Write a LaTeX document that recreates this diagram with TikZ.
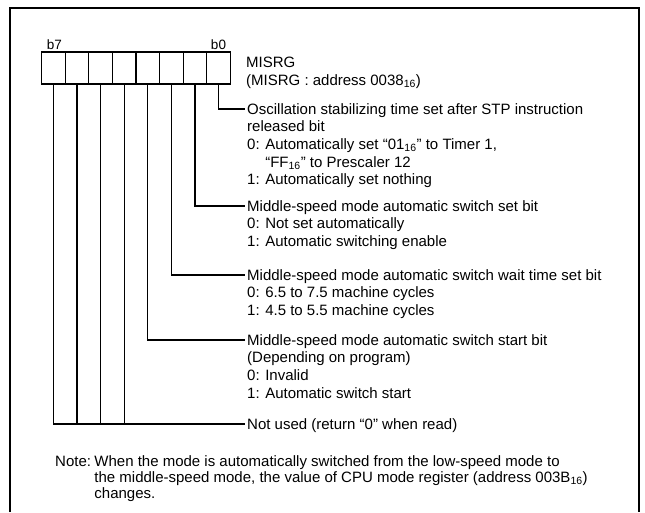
\documentclass[tikz,border=0pt]{standalone}
\usepackage{fontspec}
\setmainfont{Liberation Sans}
\usepackage{tikz}
\usetikzlibrary{positioning,calc}

\tikzset{
  cell/.style={draw, rectangle, line width=1.2pt, minimum width=23.6pt, minimum height=32pt, inner sep=0pt},
  wire/.style={line width=1.2pt},
  desc/.style={anchor=north west, inner sep=0pt, align=left, font=\fontsize{15}{17.6}\selectfont},
  notetext/.style={anchor=north west, inner sep=0pt, align=left, font=\fontsize{15}{16}\selectfont},
  bitlabel/.style={anchor=south, inner sep=1.5pt, font=\fontsize{13.5}{13.5}\selectfont}
}
\newcommand{\hexsub}{\textsubscript{16}}

\begin{document}
\begin{tikzpicture}[x=1pt, y=-1pt]
    \useasboundingbox (0,0) rectangle (645,512);
    \draw [line width=2pt] (10,512) -- (10,7.5) -- (639,7.5) -- (639,512);
    \foreach \b in {0,...,7}
        \node [cell] (c\b) at ({218.5-23.6*\b},68) {};
    \node [bitlabel] (lb7) at ([xshift=1pt]c7.north) {b7};
    \node [bitlabel] (lb0) at (c0.north) {b0};
    \node [desc] (reg) at (246,55) {\strut MISRG\\(MISRG : address 0038\hexsub)};
    \coordinate (e0) at (245,109);
    \coordinate (e1) at (245,206);
    \coordinate (e2) at (245,275);
    \coordinate (e3) at (245,340);
    \coordinate (e4) at (245,424);
    \node [desc] (d0) at ([shift={(2,-7.2)}]e0) {\strut Oscillation stabilizing time set after STP instruction\\released bit\\0: Automatically set “01\hexsub” to Timer 1,\\\phantom{0: }“FF\hexsub” to Prescaler 12\\1: Automatically set nothing};
    \node [desc] (d1) at ([shift={(2,-7.2)}]e1) {\strut Middle-speed mode automatic switch set bit\\0: Not set automatically\\1: Automatic switching enable};
    \node [desc] (d2) at ([shift={(2,-7.2)}]e2) {\strut Middle-speed mode automatic switch wait time set bit\\0: 6.5 to 7.5 machine cycles\\1: 4.5 to 5.5 machine cycles};
    \node [desc] (d3) at ([shift={(2,-7.2)}]e3) {\strut Middle-speed mode automatic switch start bit\\(Depending on program)\\0: Invalid\\1: Automatic switch start};
    \node [desc] (d4) at ([shift={(2,-7.2)}]e4) {\strut Not used (return “0” when read)};
    \draw [wire] (c0.south) |- (e0);
    \draw [wire] (c1.south) |- (e1);
    \draw [wire] (c2.south) |- (e2);
    \draw [wire] (c3.south) |- (e3);
    \draw [wire] (c7.south) |- (e4);
    \foreach \b in {4,5,6}
        \draw [wire] (c\b.south) -- (c\b.south |- e4);
    \node [notetext] (note) at (55,455) {\strut Note:};
    \node [notetext] (notebody) at ([xshift=3pt]note.north east) {\strut When the mode is automatically switched from the low-speed mode to\\the middle-speed mode, the value of CPU mode register (address 003B\hexsub)\\changes.};
\end{tikzpicture}
\end{document}
